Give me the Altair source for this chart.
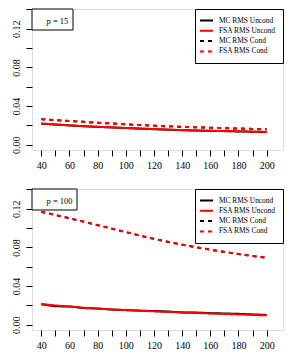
import altair as alt
import pandas as pd

n_vals = [40, 50, 60, 70, 80, 90, 100, 110, 120, 130, 140, 150, 160, 170, 180, 190, 200]

series_names = ["MC RMS Uncond", "FSA RMS Uncond", "MC RMS Cond", "FSA RMS Cond"]
series_colors = ["#000000", "#FF0000", "#000000", "#FF0000"]
series_dash = [[1, 0], [1, 0], [4, 4], [4, 4]]

# p = 15
p15_mc_uncond = [0.0219, 0.0209, 0.0200, 0.0192, 0.0185, 0.0179, 0.0173, 0.0167, 0.0161, 0.0156, 0.0151, 0.0147, 0.0144, 0.0141, 0.0138, 0.0135, 0.0132]
p15_fsa_uncond = [0.0220, 0.0210, 0.0201, 0.0193, 0.0186, 0.0180, 0.0174, 0.0168, 0.0162, 0.0157, 0.0152, 0.0148, 0.0145, 0.0142, 0.0139, 0.0136, 0.0133]
p15_mc_cond = [0.0263, 0.0254, 0.0246, 0.0237, 0.0228, 0.0220, 0.0211, 0.0204, 0.0197, 0.0191, 0.0185, 0.0180, 0.0176, 0.0172, 0.0168, 0.0164, 0.0160]
p15_fsa_cond = [0.0264, 0.0255, 0.0247, 0.0238, 0.0228, 0.0220, 0.0211, 0.0204, 0.0197, 0.0191, 0.0185, 0.0180, 0.0176, 0.0172, 0.0168, 0.0164, 0.0160]

# p = 100
p100_mc_uncond = [0.0212, 0.0191, 0.0189, 0.0173, 0.0168, 0.0157, 0.0152, 0.0146, 0.0142, 0.0137, 0.0128, 0.0127, 0.0120, 0.0117, 0.0113, 0.0107, 0.0102]
p100_fsa_uncond = [0.0214, 0.0200, 0.0189, 0.0176, 0.0167, 0.0159, 0.0152, 0.0145, 0.0139, 0.0133, 0.0127, 0.0122, 0.0117, 0.0112, 0.0107, 0.0102, 0.0097]
p100_mc_cond = [0.1168, 0.1135, 0.1101, 0.1066, 0.1030, 0.0994, 0.0958, 0.0922, 0.0888, 0.0857, 0.0828, 0.0801, 0.0776, 0.0753, 0.0731, 0.0711, 0.0692]
p100_fsa_cond = [0.1169, 0.1136, 0.1102, 0.1067, 0.1031, 0.0995, 0.0959, 0.0923, 0.0889, 0.0858, 0.0829, 0.0802, 0.0777, 0.0754, 0.0732, 0.0712, 0.0693]

panel_labels = ["p = 15", "p = 100"]

x_ticks = list(range(40, 201, 10))
y_ticks = [0.0, 0.02, 0.04, 0.06, 0.08, 0.10, 0.12, 0.14]

FONT = "Liberation Serif"


def make_df(values_list):
    rows = []
    for name, vals in zip(series_names, values_list):
        for n, v in zip(n_vals, vals):
            rows.append({"n": n, "rms": v, "series": name})
    return pd.DataFrame(rows)


def panel(values_list, label, box_w):
    df = make_df(values_list)
    x = alt.X("n:Q", scale=alt.Scale(domain=[33.4, 211.6], nice=False, zero=False),
              axis=alt.Axis(values=x_ticks, title=None, grid=False, domain=False,
                            tickColor="black", tickSize=6, labelPadding=4,
                            labelFont=FONT, labelFontSize=10, labelColor="black",
                            labelExpr="datum.value % 20 == 0 ? datum.label : ''",
                            labelFlush=False, labelOverlap=False))
    y = alt.Y("rms:Q", scale=alt.Scale(domain=[-0.0054, 0.1404], nice=False, zero=False),
              axis=alt.Axis(values=y_ticks, title=None, grid=False, domain=False,
                            tickColor="black", tickSize=6, labelPadding=5,
                            labelFont=FONT, labelFontSize=10, labelColor="black",
                            labelAngle=270, format=".2f",
                            labelExpr="round(datum.value*100) % 4 == 0 ? datum.label : ''",
                            labelOverlap=False, labelFlush=False))
    leg = alt.Legend(title=None, orient="top-right", offset=0, padding=7,
                     strokeColor="black", fillColor="white",
                     symbolType="M-2,0H2", symbolSize=42, symbolStrokeWidth=2,
                     labelFont=FONT, labelFontSize=7.4, labelColor="black",
                     labelOffset=8, rowPadding=1.3, labelLimit=200)
    color = alt.Color("series:N", scale=alt.Scale(domain=series_names, range=series_colors), legend=leg)
    dash = alt.StrokeDash("series:N", scale=alt.Scale(domain=series_names, range=series_dash), legend=leg)

    base = alt.Chart(df).mark_line(strokeWidth=2, clip=True).encode(x=x, y=y, color=color, strokeDash=dash)
    mc = base.transform_filter(alt.FieldOneOfPredicate(field="series", oneOf=["MC RMS Uncond", "MC RMS Cond"]))
    fsa = base.transform_filter(alt.FieldOneOfPredicate(field="series", oneOf=["FSA RMS Uncond", "FSA RMS Cond"]))

    lab_df = pd.DataFrame({"label": [label]})
    box = alt.Chart(lab_df).mark_rect(fill="white", stroke="black", strokeWidth=1).encode(
        x=alt.value(0), x2=alt.value(box_w), y=alt.value(0), y2=alt.value(21))
    txt = alt.Chart(lab_df).mark_text(font=FONT, fontSize=8.5, align="left", baseline="middle",
                                      color="black").encode(
        x=alt.value(14.5), y=alt.value(11.5), text="label:N")

    return alt.layer(mc, fsa, box, txt).properties(width=251, height=141)


top = panel([p15_mc_uncond, p15_fsa_uncond, p15_mc_cond, p15_fsa_cond], panel_labels[0], 41)
bottom = panel([p100_mc_uncond, p100_fsa_uncond, p100_mc_cond, p100_fsa_cond], panel_labels[1], 45)

chart = alt.vconcat(top, bottom, spacing=17).resolve_scale(
    color="independent", strokeDash="independent"
).properties(
    padding={"left": 2, "top": 0, "right": 0, "bottom": 0}
).configure_view(stroke="black", strokeWidth=1).configure(background="white")

chart.save("out.html", embed_options={"renderer": "svg", "actions": False})
